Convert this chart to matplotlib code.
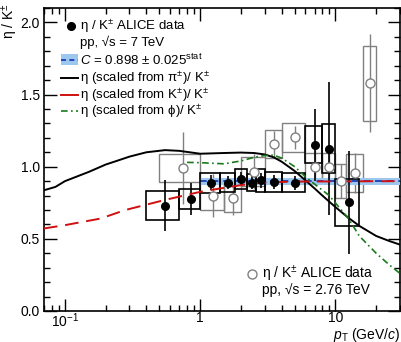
import matplotlib
matplotlib.use("Agg")
import matplotlib.pyplot as plt
from matplotlib.patches import Rectangle
from matplotlib.ticker import MultipleLocator, LogLocator, NullFormatter, FixedLocator, FixedFormatter
import numpy as np

plt.rcParams['font.family'] = ['Liberation Sans', 'DejaVu Sans']
plt.rcParams['mathtext.fontset'] = 'custom'
plt.rcParams['mathtext.rm'] = 'Liberation Sans'
plt.rcParams['mathtext.it'] = 'Liberation Sans:italic'

# eta/K ratio, pp 7 TeV
pt_7 = [0.55, 0.85, 1.2, 1.6, 2.0, 2.4, 2.8, 3.5, 5.0, 7.0, 9.0, 12.5]
edges_7 = [0.4, 0.7, 1.0, 1.4, 1.8, 2.2, 2.6, 3.0, 4.0, 6.0, 8.0, 10.0, 15.0]
val_7 = [0.73, 0.775, 0.89, 0.89, 0.915, 0.89, 0.905, 0.893, 0.888, 1.153, 1.126, 0.752]
stat_7 = [0.176, 0.11, 0.05, 0.045, 0.05, 0.045, 0.05, 0.05, 0.05, 0.25, 0.46, 0.355]
sys_7 = [0.099, 0.068, 0.069, 0.066, 0.066, 0.06, 0.08, 0.07, 0.066, 0.13, 0.17, 0.16]

# eta/K ratio, pp 2.76 TeV
pt_276 = [0.75, 1.25, 1.75, 2.5, 3.5, 5.0, 7.0, 9.0, 11.0, 14.0, 18.0]
edges_276 = [0.5, 1.0, 1.5, 2.0, 3.0, 4.0, 6.0, 8.0, 10.0, 12.0, 16.0, 20.0]
val_276 = [0.99, 0.80, 0.785, 0.965, 1.155, 1.205, 0.995, 0.995, 0.90, 0.955, 1.58]
stat_276 = [0.25, 0.15, 0.12, 0.12, 0.09, 0.08, 0.12, 0.1, 0.12, 0.14, 0.34]
sys_276 = [0.097, 0.1, 0.1, 0.1, 0.098, 0.1, 0.1, 0.1, 0.12, 0.13, 0.26]

# constant fit above 1 GeV/c
c_fit = 0.898
c_err = 0.025
c_range = [1.0, 30.0]

# mT-scaled predictions
pi_pt = [0.07, 0.085, 0.1, 0.15, 0.2, 0.25, 0.3, 0.4, 0.55, 0.7, 1.0, 1.5, 2.0, 2.5, 3.0,
         3.5, 4.0, 5.0, 6.0, 7.0, 8.0, 10, 12.5, 15, 20, 25, 30]
pi_val = [0.837, 0.86, 0.9, 0.964, 1.015, 1.045, 1.07, 1.1, 1.115, 1.11, 1.09, 1.095, 1.098,
          1.095, 1.085, 1.065, 1.035, 0.97, 0.905, 0.85, 0.8, 0.72, 0.645, 0.59, 0.52, 0.485, 0.46]
k_pt = [0.07, 0.1, 0.184, 0.277, 0.55, 1.0, 1.4, 2.0, 2.5, 3.5, 5.0, 30]
k_val = [0.572, 0.595, 0.641, 0.699, 0.77, 0.826, 0.849, 0.872, 0.885, 0.893, 0.897, 0.9]
phi_pt = [0.8, 1.0, 1.5, 2.0, 2.5, 3.0, 3.5, 4.0, 5.0, 6.0, 7.0, 9.0, 12.5, 15, 20, 25, 30]
phi_val = [1.03, 1.028, 1.02, 1.04, 1.065, 1.078, 1.08, 1.06, 1.0, 0.93, 0.88, 0.8, 0.64,
           0.52, 0.4, 0.32, 0.26]

gray = '#808080'
red = '#d01010'
green = '#1a7a1a'
band = '#9cc8f0'
blue = '#1030b0'

fig = plt.figure(figsize=(4.01, 3.42), dpi=100)
ax = fig.add_axes([44 / 401, 31 / 342, 356 / 401, 303 / 342])
ax.set_xscale('log')
ax.set_xlim(0.07, 30)
ax.set_ylim(0, 2.1)

# 2.76 TeV: systematic boxes and stat bars
for i in range(len(pt_276)):
    lo, hi = edges_276[i], edges_276[i + 1]
    ax.add_patch(Rectangle((lo, val_276[i] - sys_276[i]), hi - lo, 2 * sys_276[i],
                           fill=False, ec=gray, lw=1.0, zorder=2))
ax.errorbar(pt_276, val_276, yerr=stat_276, fmt='none', ecolor=gray, elinewidth=1.0,
            capsize=0, zorder=2)

# fit band
ax.fill_between(c_range, c_fit - c_err, c_fit + c_err, color=band, lw=0, zorder=3)
ax.plot(c_range, [c_fit, c_fit], color=blue, lw=1.2, ls=(0, (4, 3)), zorder=3)

# 7 TeV: systematic boxes and stat bars
for i in range(len(pt_7)):
    lo, hi = edges_7[i], edges_7[i + 1]
    ax.add_patch(Rectangle((lo, val_7[i] - sys_7[i]), hi - lo, 2 * sys_7[i],
                           fill=False, ec='black', lw=1.2, zorder=4))
ax.errorbar(pt_7, val_7, yerr=stat_7, fmt='none', ecolor='black', elinewidth=1.2,
            capsize=0, zorder=4)

# predictions
ax.plot(pi_pt, pi_val, color='black', lw=1.4, zorder=5)
ax.plot(k_pt, k_val, color=red, lw=1.4, ls=(0, (7, 4)), zorder=5)
ax.plot(phi_pt, phi_val, color=green, lw=1.2, ls=(0, (4, 2, 1, 2)), zorder=5)

ax.plot(pt_276, val_276, 'o', ms=6.5, mfc='white', mec=gray, mew=1.0, zorder=6)
ax.plot(pt_7, val_7, 'o', ms=5.5, color='black', zorder=7)

# axes style: ticks inside on all sides
ax.tick_params(which='both', direction='in', top=True, right=True, width=1.0,
               labelsize=10, colors='black')
ax.tick_params(which='major', length=9)
ax.tick_params(which='minor', length=4.5)
ax.tick_params(axis='x', pad=0)
ax.tick_params(axis='y', pad=3)
ax.yaxis.set_major_locator(MultipleLocator(0.5))
ax.yaxis.set_minor_locator(MultipleLocator(0.1))
ax.yaxis.set_major_formatter(plt.FuncFormatter(lambda v, p: '%.1f' % v))
ax.xaxis.set_major_locator(FixedLocator([0.1, 1, 10]))
ax.xaxis.set_major_formatter(FixedFormatter(['$10^{-1}$', '1', '10']))
ax.xaxis.set_minor_locator(LogLocator(base=10, subs=np.arange(2, 10)))
ax.xaxis.set_minor_formatter(NullFormatter())
for s in ax.spines.values():
    s.set_linewidth(1.2)

fig.text(400 / 401, 1 - 338.5 / 342, r'$p_{\rm T}$ (GeV/$c$)', fontsize=10,
         ha='right', va='baseline')
fig.text(10 / 401, 1 - 3 / 342, 'η / K$^{\\pm}$', rotation=90, ha='center', va='top',
         fontsize=10)

# legend for 7 TeV and predictions
def ax_xy(px, py):
    return (px - 44) / 356, (311 - py) / 303

fs = 9.5
tr = ax.transAxes
x0, y0 = ax_xy(71, 26)
ax.plot([x0], [y0], 'o', ms=5.5, color='black', transform=tr, clip_on=False)
tx = ax_xy(80, 0)[0]
rows = [26, 42, 60, 78, 95, 111]
texts = ['η / K$^{\\pm}$ ALICE data',
         'pp, √s = 7 TeV',
         '$C$ = 0.898 ± 0.025$^{\\rm stat}$',
         'η (scaled from π$^{\\pm}$)/ K$^{\\pm}$',
         'η (scaled from K$^{\\pm}$)/ K$^{\\pm}$',
         'η (scaled from ϕ)/ K$^{\\pm}$']
for r, t in zip(rows, texts):
    ax.text(tx, ax_xy(0, r)[1], t, transform=tr, fontsize=fs, va='center', ha='left')

xa, _ = ax_xy(61, 0)
xb, _ = ax_xy(78, 0)
_, yb0 = ax_xy(0, 65)
_, yb1 = ax_xy(0, 54)
ax.add_patch(Rectangle((xa, yb0), xb - xa, yb1 - yb0, color=band, lw=0, transform=tr))
yc = ax_xy(0, rows[2])[1]
ax.plot([xa, xb], [yc, yc], color=blue, lw=1.2, ls=(0, (3, 2)), transform=tr)
for r, col, ls, lw in [(rows[3], 'black', '-', 1.4), (rows[4], red, '-', 1.4),
                        (rows[5], green, (0, (4, 2, 1, 2)), 1.2)]:
    yy = ax_xy(0, r)[1]
    ax.plot([xa, xb], [yy, yy], color=col, ls=ls, lw=lw, transform=tr)

# legend for 2.76 TeV
mx, my = ax_xy(252, 274)
ax.plot([mx], [my], 'o', ms=6.5, mfc='white', mec=gray, mew=1.0, transform=tr)
ax.text(ax_xy(262, 0)[0], my, 'η / K$^{\\pm}$ ALICE data', transform=tr,
        fontsize=10, va='center', ha='left')
ax.text(ax_xy(262, 0)[0], ax_xy(0, 290)[1], 'pp, √s = 2.76 TeV',
        transform=tr, fontsize=10, va='center', ha='left')

fig.savefig('out.png', dpi=100)
